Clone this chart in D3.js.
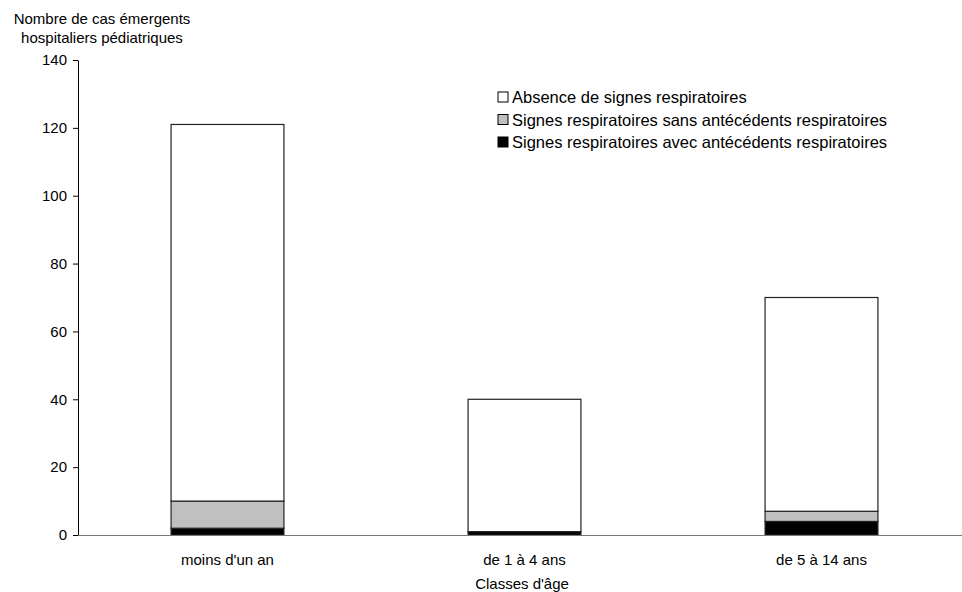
<!DOCTYPE html>
<html>
<head>
<meta charset="utf-8">
<script src="https://cdn.jsdelivr.net/npm/d3@7"></script>
<style>
  body { margin: 0; background: #fff; }
  text { font-family: "Liberation Sans", Arial, sans-serif; fill: #000; }
</style>
</head>
<body>
<div id="chart"></div>
<script>
const categories = ["moins d'un an", "de 1 à 4 ans", "de 5 à 14 ans"];
const seriesNames = [
  "Signes respiratoires avec antécédents respiratoires",
  "Signes respiratoires sans antécédents respiratoires",
  "Absence de signes respiratoires"
];
const avecAntecedents = [2, 1, 4];
const sansAntecedents = [8, 0, 3];
const absence = [111, 39, 63];
const yTicks = [0, 20, 40, 60, 80, 100, 120, 140];
const colors = ["#000000", "#c0c0c0", "#ffffff"];

const width = 962, height = 592;
const svg = d3.select("#chart").append("svg")
  .attr("width", width).attr("height", height);

const x = d3.scaleBand().domain(categories).range([79, 970])
  .paddingInner(0.62).paddingOuter(0.31);
const y = d3.scaleLinear().domain([0, 140]).range([535, 60]);

// build stacked table
const table = categories.map((c, i) => ({
  cat: c, s0: avecAntecedents[i], s1: sansAntecedents[i], s2: absence[i]
}));
const stack = d3.stack().keys(["s0", "s1", "s2"])(table);

svg.append("g")
  .selectAll("g")
  .data(stack)
  .join("g")
  .attr("fill", (d, i) => colors[i])
  .selectAll("rect")
  .data(d => d)
  .join("rect")
  .attr("x", d => x(d.data.cat))
  .attr("width", x.bandwidth())
  .attr("y", d => y(d[1]))
  .attr("height", d => y(d[0]) - y(d[1]))
  .attr("stroke", d => (d[1] - d[0]) > 0 ? "#222" : "none")
  .attr("stroke-width", 1.2);

// y axis
const yAxis = svg.append("g")
  .attr("transform", "translate(78,0)")
  .call(d3.axisLeft(y).tickValues(yTicks).tickSize(5).tickSizeOuter(0).tickPadding(6));
yAxis.select(".domain").attr("stroke", "#000");
yAxis.selectAll(".tick line").attr("stroke", "#000");
yAxis.selectAll("text").style("font-size", "15px").attr("font-family", null);

// x axis
const xAxis = svg.append("g")
  .attr("transform", "translate(0,535)")
  .call(d3.axisBottom(x).tickSize(0).tickPadding(19));
xAxis.select(".domain").attr("stroke", "#777").attr("d", "M78,0.5H962");
xAxis.selectAll("text").style("font-size", "15px").attr("font-family", null);

// titles
svg.append("text").attr("x", 102).attr("y", 24).attr("text-anchor", "middle")
  .style("font-size", "15px").text("Nombre de cas émergents");
svg.append("text").attr("x", 102).attr("y", 43).attr("text-anchor", "middle")
  .style("font-size", "15px").text("hospitaliers pédiatriques");
svg.append("text").attr("x", 522).attr("y", 589).attr("text-anchor", "middle")
  .style("font-size", "15px").text("Classes d'âge");

// legend (top to bottom: absence, sans, avec)
const legendOrder = [2, 1, 0];
const legend = svg.append("g").selectAll("g")
  .data(legendOrder)
  .join("g")
  .attr("transform", (d, i) => `translate(498,${92 + i * 22.5})`);
legend.append("rect")
  .attr("width", 10).attr("height", 10)
  .attr("fill", d => colors[d]).attr("stroke", "#000").attr("stroke-width", 1);
legend.append("text")
  .attr("x", 14).attr("y", 11)
  .style("font-size", "16.5px")
  .text(d => seriesNames[d]);
</script>
</body>
</html>
